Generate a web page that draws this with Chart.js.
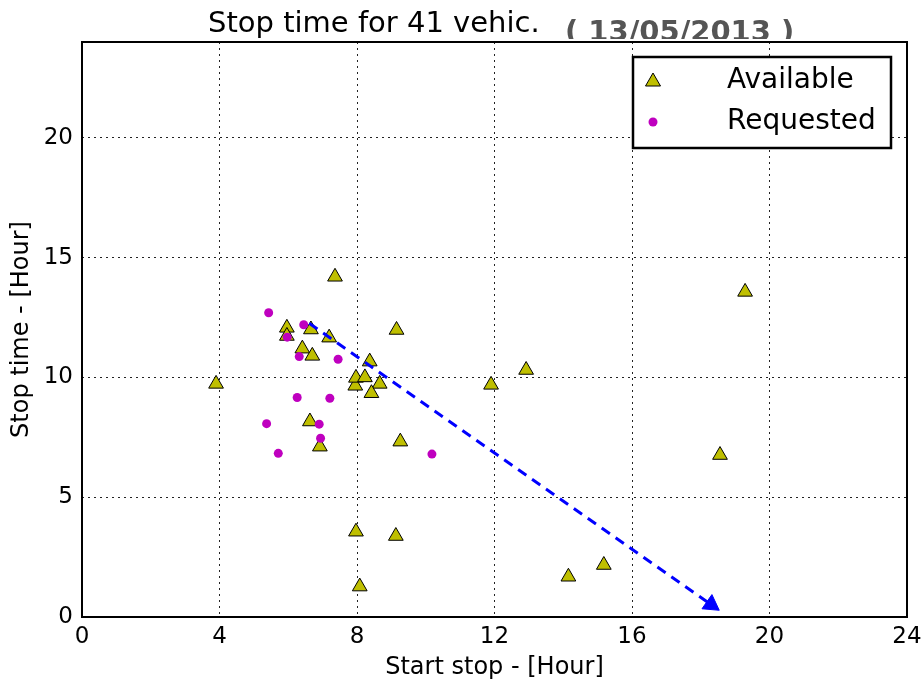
<!DOCTYPE html>
<html>
<head>
<meta charset="utf-8">
<script src="https://cdn.jsdelivr.net/npm/chart.js@4"></script>
<style>body{margin:0;background:#fff}</style>
</head>
<body>
<canvas id="graficoParadas" width="924" height="680"></canvas>
<script>
// datos
const titulo = 'Stop time for 41 vehic.';
const fecha = '( 13/05/2013 )';
const xTicks = [0, 4, 8, 12, 16, 20, 24];
const yTicks = [0, 5, 10, 15, 20];

const availX = [3.9, 5.96, 5.96, 6.66, 7.19, 6.41, 6.7, 7.36, 9.15, 8.37, 7.95, 7.97, 8.23, 8.66, 8.42, 6.63, 6.92, 9.26, 11.9, 12.92, 19.29, 18.56, 7.97, 9.13, 8.08, 14.15, 15.18];
const availY = [9.73, 12.07, 11.73, 12.0, 11.66, 11.2, 10.9, 14.2, 11.98, 10.66, 9.65, 9.98, 10.0, 9.73, 9.34, 8.16, 7.11, 7.32, 9.69, 10.31, 13.57, 6.76, 3.56, 3.38, 1.27, 1.68, 2.17];

const reqX = [5.43, 6.45, 5.97, 6.32, 7.45, 6.26, 7.21, 5.37, 6.9, 6.94, 5.71, 10.18];
const reqY = [12.7, 12.2, 11.68, 10.87, 10.76, 9.16, 9.13, 8.07, 8.05, 7.46, 6.83, 6.8];

const flechaX = [6.61, 18.3];
const flechaY = [12.26, 0.52];

const toPoints = (xs, ys) => xs.map((x, i) => ({x: x, y: ys[i]}));

const fuente = '"DejaVu Sans"';

// marco, titulo y leyenda
const extras = {
    id: 'extras',
    afterDraw(chart) {
        const ctx = chart.ctx;
        const a = chart.chartArea;
        ctx.save();
        ctx.strokeStyle = '#000';
        ctx.lineWidth = 2;
        ctx.strokeRect(a.left, a.top, a.right - a.left, a.bottom - a.top);

        ctx.fillStyle = '#000';
        ctx.font = '29px ' + fuente;
        ctx.textBaseline = 'alphabetic';
        ctx.fillText(titulo, 208, 32);

        ctx.save();
        ctx.beginPath();
        ctx.rect(0, 0, chart.width, a.top - 3);
        ctx.clip();
        ctx.fillStyle = '#555';
        ctx.font = 'bold 29px ' + fuente;
        ctx.fillText(fecha, 565, 41);
        ctx.restore();

        // leyenda
        const lx = a.right - 274, ly = a.top + 15;
        ctx.fillStyle = '#fff';
        ctx.fillRect(lx, ly, 258, 91);
        ctx.lineWidth = 2.5;
        ctx.strokeRect(lx, ly, 258, 91);

        ctx.beginPath();
        ctx.moveTo(lx + 20, ly + 16);
        ctx.lineTo(lx + 27.5, ly + 29);
        ctx.lineTo(lx + 12.5, ly + 29);
        ctx.closePath();
        ctx.fillStyle = '#bfbf00';
        ctx.fill();
        ctx.lineWidth = 1;
        ctx.stroke();

        ctx.beginPath();
        ctx.arc(lx + 20, ly + 65, 4.5, 0, Math.PI * 2);
        ctx.fillStyle = '#bf00bf';
        ctx.fill();

        ctx.fillStyle = '#000';
        ctx.font = '28px ' + fuente;
        ctx.textBaseline = 'middle';
        ctx.fillText('Available', lx + 94, ly + 24);
        ctx.fillText('Requested', lx + 94, ly + 65);
        ctx.restore();
    }
};

const ctx = document.getElementById('graficoParadas').getContext('2d');
new Chart(ctx, {
    type: 'scatter',
    data: {
        datasets: [
            {
                label: 'Available',
                data: toPoints(availX, availY),
                pointStyle: 'triangle',
                pointRadius: 8.5,
                pointHoverRadius: 8.5,
                backgroundColor: '#bfbf00',
                borderColor: '#000',
                borderWidth: 1,
                order: 3
            },
            {
                label: 'Requested',
                data: toPoints(reqX, reqY),
                pointStyle: 'circle',
                pointRadius: 4.5,
                backgroundColor: '#bf00bf',
                borderWidth: 0,
                order: 2
            },
            {
                label: 'flecha',
                data: toPoints(flechaX, flechaY),
                showLine: true,
                borderColor: '#0000ff',
                borderWidth: 3,
                borderDash: [10, 7],
                pointStyle: 'triangle',
                pointRadius: [0, 10],
                pointRotation: [0, 125],
                pointBackgroundColor: '#0000ff',
                pointBorderColor: '#0000ff',
                pointBorderWidth: 1,
                order: 1
            }
        ]
    },
    options: {
        responsive: false,
        animation: false,
        layout: {
            padding: {top: 42, right: 17, left: 0, bottom: 0}
        },
        plugins: {
            legend: {display: false},
            tooltip: {enabled: false}
        },
        scales: {
            x: {
                type: 'linear',
                min: 0,
                max: 24,
                afterBuildTicks: s => { s.ticks = xTicks.map(v => ({value: v})); },
                afterFit: s => { s.height = 63; s.paddingRight = 0; s.paddingLeft = 0; },
                grid: {color: '#222', lineWidth: 1, drawTicks: false},
                border: {display: false, dash: [2, 4]},
                ticks: {color: '#000', padding: 6, font: {family: 'DejaVu Sans', size: 23}},
                title: {
                    display: true,
                    text: 'Start stop - [Hour]',
                    color: '#000',
                    font: {family: 'DejaVu Sans', size: 24, lineHeight: 1},
                    padding: {top: 0, bottom: 0}
                }
            },
            y: {
                min: 0,
                max: 24,
                afterBuildTicks: s => { s.ticks = yTicks.map(v => ({value: v})); },
                afterFit: s => { s.width = 82; },
                grid: {color: '#222', lineWidth: 1, drawTicks: false},
                border: {display: false, dash: [2, 4]},
                ticks: {color: '#000', padding: 9, font: {family: 'DejaVu Sans', size: 23}},
                title: {
                    display: true,
                    text: 'Stop time - [Hour]',
                    color: '#000',
                    font: {family: 'DejaVu Sans', size: 24, lineHeight: 1},
                    padding: {top: 10, bottom: 0}
                }
            }
        }
    },
    plugins: [extras]
});
</script>
</body>
</html>
